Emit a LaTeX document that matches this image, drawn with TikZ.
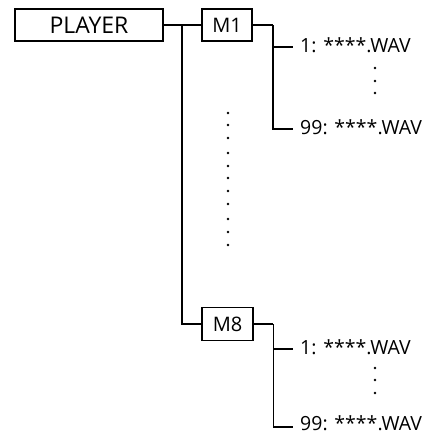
\documentclass[tikz,border=0pt]{standalone}
\usepackage{fontspec}
\setmainfont{Open Sans}

\begin{document}
\begin{tikzpicture}[
  x=1pt, y=-1pt,
  line cap=butt, line join=miter,
  every node/.style={inner sep=0pt},
  tree/.style={draw=black, line width=1.5pt},
  box/.style={draw=black, line width=1.5pt, rectangle, font=\fontsize{20}{20}\selectfont},
  file/.style={anchor=base west, inner xsep=7pt, font=\fontsize{19.5}{19.5}\selectfont},
  vdot/.style={circle, fill=black, minimum size=2.8pt, inner sep=0pt},
]
\useasboundingbox (0,0) rectangle (435,434);
% boxes
\node[box, minimum width=148pt, minimum height=32pt, font=\fontsize{23}{23}\selectfont] (player) at (89,25) {PLAYER};
\node[box, minimum width=50pt, minimum height=32pt] (m1) at (227,25) {M1};
\node[box, minimum width=51pt, minimum height=33pt] (m8) at (227.5,324) {M8};
% files
\node[file] (m1first) at (293,52) {1: ****.WAV};
\node[file] (m1last) at (293,134) {99: ****.WAV};
\node[file] (m8first) at (293,354) {1: ****.WAV};
\node[file] (m8last) at (293,430) {99: ****.WAV};
% trunk
\coordinate (trunk) at (182,25);
\draw[tree] (player.east) -- (m1.west);
\draw[tree] (trunk) |- (m8.west);
% branches
\draw[tree] (m1.east) -- ++(20,0) coordinate (m1fork);
\draw[tree] (m1fork) |- ([yshift=5pt]m1first.base west);
\draw[tree] (m1fork) |- ([yshift=5pt]m1last.base west);
\draw[tree] (m8.east) -- ++(19.5,0) coordinate (m8fork);
\draw[tree] (m8fork) |- ([yshift=5pt]m8first.base west);
\draw[tree] (m8fork) |- ([yshift=3pt]m8last.base west);
% dots
\foreach \y in {113,125,138,153,166,178,191,204,219,232,245}
  \node[vdot] at (228,\y) {};
\foreach \y in {68,81,93,368,380,393}
  \node[vdot] at (375,\y) {};
\end{tikzpicture}
\end{document}
